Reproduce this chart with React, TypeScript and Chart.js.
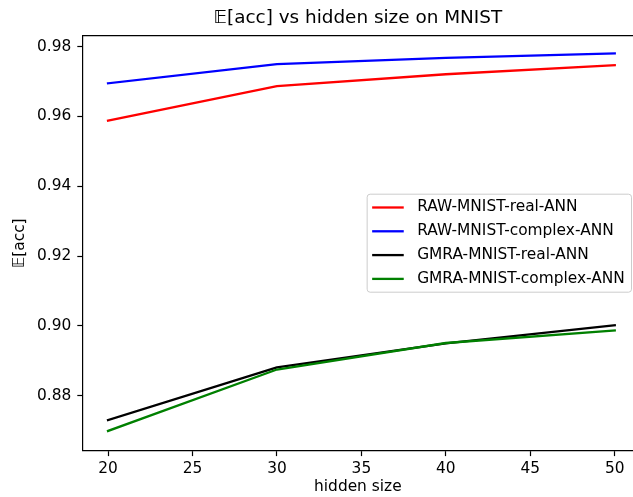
import React, { useEffect, useRef } from "react";
import { Chart, registerables } from "chart.js";

Chart.register(...registerables);

const hiddenSizes = [20, 30, 40, 50];
const rawReal = [0.9588, 0.9687, 0.9721, 0.9747];
const rawComplex = [0.9695, 0.975, 0.9768, 0.9781];
const gmraReal = [0.873, 0.8881, 0.895, 0.9002];
const gmraComplex = [0.8699, 0.8875, 0.8951, 0.8987];

const seriesLabels = [
  "RAW-MNIST-real-ANN",
  "RAW-MNIST-complex-ANN",
  "GMRA-MNIST-real-ANN",
  "GMRA-MNIST-complex-ANN",
];
const seriesColors = ["#ff0000", "#0000ff", "#000000", "#008000"];

const xTicks = [20, 25, 30, 35, 40, 45, 50];
const xTickLabels = ["20", "25", "30", "35", "40", "45", "50"];
const yTicks = [0.88, 0.9, 0.92, 0.94, 0.96, 0.98];
const yTickLabels = ["0.88", "0.90", "0.92", "0.94", "0.96", "0.98"];

const titleText = "𝔼[acc] vs hidden size on MNIST";
const xTitle = "hidden size";
const yTitle = "𝔼[acc]";

const FONT = "'DejaVu Sans', sans-serif";
const FS = 15.4;

const framePlugin = {
  id: "mplFrame",
  afterDraw(chart: any) {
    const { ctx, chartArea } = chart;
    ctx.save();
    ctx.strokeStyle = "#000";
    ctx.lineWidth = 1.2;
    ctx.beginPath();
    ctx.moveTo(chartArea.left, chartArea.top);
    ctx.lineTo(chartArea.right, chartArea.top);
    ctx.stroke();
    ctx.restore();
  },
};

const legendPlugin = {
  id: "mplLegend",
  afterDraw(chart: any) {
    const { ctx, chartArea } = chart;
    const ds = chart.data.datasets;
    ctx.save();
    ctx.font = `${FS}px ${FONT}`;
    const textW = Math.max(...ds.map((d: any) => ctx.measureText(d.label).width));
    const padL = 5;
    const handle = 31.6;
    const gap = 13.4;
    const padR = 6.7;
    const rowH = 23.8;
    const padV = 13.3;
    const w = padL + handle + gap + textW + padR;
    const h = padV * 2 + rowH * (ds.length - 1);
    const right = chartArea.right - 1.5;
    const left = right - w;
    const top = (chartArea.top + chartArea.bottom) / 2 - h / 2;
    ctx.beginPath();
    ctx.roundRect(left, top, w, h, 3);
    ctx.fillStyle = "rgba(255,255,255,0.8)";
    ctx.fill();
    ctx.strokeStyle = "#cccccc";
    ctx.lineWidth = 1;
    ctx.stroke();
    ds.forEach((d: any, i: number) => {
      const cy = top + padV + i * rowH;
      ctx.beginPath();
      ctx.strokeStyle = d.borderColor;
      ctx.lineWidth = 2.3;
      ctx.lineCap = "butt";
      ctx.moveTo(left + padL, cy);
      ctx.lineTo(left + padL + handle, cy);
      ctx.stroke();
      ctx.fillStyle = "#000";
      ctx.textBaseline = "middle";
      ctx.textAlign = "left";
      ctx.fillText(d.label, left + padL + handle + gap, cy);
    });
    ctx.restore();
  },
};

export default function App() {
  const ref = useRef<HTMLCanvasElement | null>(null);

  useEffect(() => {
    if (!ref.current) return;
    const series = [rawReal, rawComplex, gmraReal, gmraComplex];
    const font = { family: FONT, size: FS, weight: "normal" as const, lineHeight: 1.2 };
    const chart = new Chart(ref.current, {
      type: "line",
      data: {
        datasets: series.map((vals, i) => ({
          label: seriesLabels[i],
          data: hiddenSizes.map((x, j) => ({ x, y: vals[j] })),
          borderColor: seriesColors[i],
          backgroundColor: seriesColors[i],
          borderWidth: 2.3,
          pointRadius: 0,
          borderCapStyle: "square" as const,
          borderJoinStyle: "round" as const,
          tension: 0,
          fill: false,
          order: series.length - i,
        })),
      },
      options: {
        animation: false,
        responsive: false,
        devicePixelRatio: 1,
        layout: { padding: 0 },
        plugins: {
          legend: { display: false },
          tooltip: { enabled: false },
          title: {
            display: true,
            text: titleText,
            fullSize: false,
            color: "#000",
            font: { family: FONT, size: 18.4, weight: "normal", lineHeight: 1.2 },
            padding: { top: 7, bottom: 6.6 },
          },
        },
        scales: {
          x: {
            type: "linear",
            min: 18.5,
            max: 51.08,
            afterBuildTicks: (s: any) => {
              s.ticks = xTicks.map((v) => ({ value: v }));
            },
            afterFit: (s: any) => {
              s.height = 46.3;
            },
            ticks: {
              color: "#000",
              font,
              padding: 3.5,
              maxRotation: 0,
              autoSkip: false,
              callback: (v: any) => {
                const i = xTicks.indexOf(Number(v));
                return i >= 0 ? xTickLabels[i] : "";
              },
            },
            grid: {
              display: true,
              drawOnChartArea: false,
              drawTicks: true,
              tickLength: 5.4,
              tickColor: "#000",
              tickWidth: 1.2,
            },
            border: { display: true, color: "#000", width: 1.2 },
            title: {
              display: true,
              text: xTitle,
              color: "#000",
              font,
              padding: { top: 0, bottom: 1.2 },
            },
          },
          y: {
            type: "linear",
            min: 0.86424,
            max: 0.98315,
            afterBuildTicks: (s: any) => {
              s.ticks = yTicks.map((v) => ({ value: v }));
            },
            afterFit: (s: any) => {
              s.width = 82.7;
            },
            ticks: {
              color: "#000",
              font,
              padding: 6,
              autoSkip: false,
              callback: (v: any) => {
                const i = yTicks.findIndex((t) => Math.abs(t - Number(v)) < 1e-6);
                return i >= 0 ? yTickLabels[i] : "";
              },
            },
            grid: {
              display: true,
              drawOnChartArea: false,
              drawTicks: true,
              tickLength: 5.4,
              tickColor: "#000",
              tickWidth: 1.2,
            },
            border: { display: true, color: "#000", width: 1.2 },
            title: {
              display: true,
              text: yTitle,
              color: "#000",
              font,
              padding: { top: 10.8, bottom: 0 },
            },
          },
        },
      },
      plugins: [framePlugin, legendPlugin],
    } as any);
    return () => chart.destroy();
  }, []);

  return (
    <div
      style={{
        position: "fixed",
        left: 0,
        top: 0,
        width: 633,
        height: 497,
        overflow: "hidden",
        background: "#fff",
      }}
    >
      <canvas ref={ref} width={633} height={497} style={{ width: 633, height: 497, display: "block" }} />
    </div>
  );
}
